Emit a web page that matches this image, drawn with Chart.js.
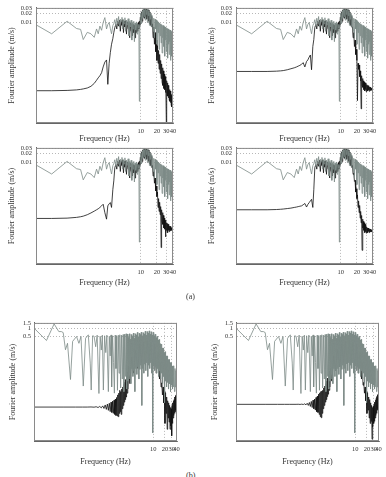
<!DOCTYPE html>
<html>
<head>
<meta charset="utf-8">
<script src="https://cdn.jsdelivr.net/npm/chart.js@4"></script>
<style>
  html, body { margin: 0; padding: 0; background: #fff; }
  body { width: 386px; height: 477px; position: relative; overflow: hidden; }
  canvas { position: absolute; }
  .tag { position: absolute; font-family: 'Liberation Serif', serif; font-size: 8px; line-height: 10px; color: #333; }
</style>
</head>
<body>
<canvas id="p1"></canvas>
<canvas id="p2"></canvas>
<canvas id="p3"></canvas>
<canvas id="p4"></canvas>
<canvas id="p5"></canvas>
<canvas id="p6"></canvas>
<div class="tag" style="left:186px;top:292px">(a)</div>
<div class="tag" style="left:186px;top:471px">(b)</div>
<script>
// ---- (a) panels: frequency grid split in three parts ----
const freqLowA = [0.113, 0.216, 0.42, 0.63, 0.75, 0.84, 1.0, 1.17, 1.35, 1.49, 1.6, 1.72, 1.85, 1.98, 2.13, 2.29, 2.42, 2.56, 2.7, 2.84, 3.0, 3.13];
const grayLowA = [0.0081, 0.0041, 0.011, 0.0062, 0.0058, 0.0026, 0.0046, 0.0041, 0.0031, 0.006, 0.0041, 0.0075, 0.0054, 0.01, 0.0147, 0.006, 0.0085, 0.01, 0.0062, 0.0041, 0.0078, 0.0092];
const blackLowA1 = [4.6e-5, 4.6e-5, 4.7e-5, 4.9e-5, 5.1e-5, 5.3e-5, 5.7e-5, 6.5e-5, 8.2e-5, 1.05e-4, 1.27e-4, 1.5e-4, 1.9e-4, 3.0e-4, 4.4e-4, 5.2e-4, 7.6e-5, 4.0e-4, 9.5e-4, 1.8e-3, 2.8e-3, 4.5e-3];
const blackLowA2 = [2.1e-4, 2.1e-4, 2.1e-4, 2.15e-4, 2.2e-4, 2.25e-4, 2.4e-4, 2.6e-4, 2.8e-4, 3.0e-4, 3.2e-4, 3.4e-4, 3.7e-4, 4.2e-4, 3.0e-4, 4.6e-4, 5.2e-4, 6.5e-4, 7.7e-4, 2.4e-4, 1.5e-3, 2.6e-3];
const blackLowA3 = [1.27e-4, 1.27e-4, 1.3e-4, 1.38e-4, 1.45e-4, 1.52e-4, 1.7e-4, 1.95e-4, 2.25e-4, 2.5e-4, 2.7e-4, 3.0e-4, 3.4e-4, 3.85e-4, 2.0e-4, 1.2e-4, 3.4e-4, 4.0e-4, 4.4e-4, 3.0e-4, 1.2e-3, 2.4e-3];
const blackLowA4 = [2.5e-4, 2.5e-4, 2.5e-4, 2.55e-4, 2.6e-4, 2.65e-4, 2.75e-4, 2.85e-4, 3.0e-4, 3.1e-4, 3.2e-4, 3.3e-4, 3.4e-4, 3.7e-4, 4.1e-4, 3.1e-4, 3.8e-4, 4.35e-4, 5.0e-4, 5.65e-4, 3.0e-4, 1.2e-3];

const freqMidA = [3.27, 3.42, 3.56, 3.7, 3.85, 4.0, 4.15, 4.3, 4.45, 4.6, 4.75, 4.9, 5.05, 5.2, 5.4, 5.6, 5.8, 6.0, 6.2, 6.4, 6.6, 6.8, 7.0, 7.2, 7.4, 7.6, 7.8, 8.0, 8.25, 8.5, 8.75, 9.0, 9.2, 9.4, 9.6, 9.8,
  10.0, 10.3, 10.6, 10.9, 11.2, 11.5, 11.8, 12.1, 12.4, 12.7, 13.0, 13.3, 13.6, 13.9, 14.2, 14.5, 14.8, 15.1, 15.4, 15.7, 16.0];
const grayMidA = [0.0125, 0.0075, 0.014, 0.009, 0.016, 0.007, 0.013, 0.0105, 0.015, 0.006, 0.0125, 0.009, 0.0145, 0.005, 0.012, 0.008, 0.0135, 0.0035, 0.011, 0.007, 0.012, 0.0025, 0.01, 0.006, 0.011, 0.0022, 0.0095, 0.0055, 0.0105, 0.004, 0.009, 0.0065, 0.0085, 0.00002, 0.007, 0.012,
  0.021, 0.009, 0.025, 0.014, 0.031, 0.016, 0.028, 0.012, 0.03, 0.019, 0.027, 0.01, 0.029, 0.017, 0.025, 0.008, 0.022, 0.013, 0.02, 0.007, 0.018];
const blackMidA = [0.0068, 0.0085, 0.006, 0.011, 0.0075, 0.012, 0.005, 0.0115, 0.008, 0.0125, 0.0045, 0.011, 0.007, 0.0115, 0.004, 0.0105, 0.006, 0.01, 0.003, 0.0095, 0.005, 0.009, 0.0035, 0.0085, 0.0045, 0.008, 0.003, 0.0085, 0.0045, 0.009, 0.005, 0.01, 0.006, 0.011, 0.008, 0.015,
  0.012, 0.023, 0.011, 0.027, 0.015, 0.03, 0.014, 0.028, 0.016, 0.029, 0.013, 0.026, 0.015, 0.027, 0.011, 0.023, 0.009, 0.019, 0.008, 0.016, 0.007];

const freqHighA = [16.5, 17, 17.5, 18, 18.5, 19, 19.5, 20,
  20.5, 21, 21.5, 22, 22.5, 23, 23.5, 24, 24.5, 25, 25.5, 26, 26.5, 27, 27.5, 28, 28.5, 29, 29.5, 30,
  30.5, 31, 31.5, 32, 32.5, 33, 33.5, 34, 34.5, 35, 35.5, 36, 36.5, 37, 37.5, 38, 38.5, 39, 39.5, 40];
const grayHighA = [0.016, 0.005, 0.014, 0.003, 0.013, 0.006, 0.012, 0.0018,
  0.011, 0.0045, 0.0105, 0.0012, 0.0095, 0.0035, 0.009, 0.002, 0.0085, 0.0009, 0.008, 0.003, 0.0078, 0.0015, 0.0072, 0.0007, 0.007, 0.0025, 0.0068, 0.001,
  0.0065, 0.002, 0.0062, 0.0006, 0.006, 0.0018, 0.0058, 0.0008, 0.0056, 0.0022, 0.0055, 0.0005, 0.0052, 0.0015, 0.005, 0.0007, 0.0048, 0.002, 0.0046, 0.0012];
const blackHighA1 = [0.009, 0.003, 0.007, 0.0018, 0.0045, 0.001, 0.0025, 0.0005,
  0.0016, 0.0004, 0.0011, 0.00025, 0.0008, 0.00018, 0.0005, 0.00012, 0.00038, 0.00009, 0.00028, 0.00007, 0.00022, 0.000055, 0.00017, 0.00005, 0.00014, 0.00004, 0.00011, 0.0000036,
  0.0001, 0.000035, 0.000085, 0.00003, 0.00007, 0.000026, 0.00006, 0.000022, 0.00005, 0.00002, 0.000045, 0.000018, 0.00004, 0.000015, 0.000034, 0.000013, 0.00003, 0.000011, 0.000025, 0.00001];
const blackHighA2 = [0.007, 0.003, 0.0045, 0.0015, 0.0025, 0.0008, 0.0012, 0.0005,
  0.000021, 0.0004, 0.00025, 0.00035, 0.00014, 0.00022, 0.0001, 0.000011, 0.00015, 0.00007, 0.00012, 0.00006, 0.0001, 0.00005, 0.00009, 0.000045, 0.000085, 0.00005, 0.00008, 0.000042,
  0.000075, 0.00005, 0.00007, 0.000045, 0.000068, 0.000048, 0.000065, 0.000044, 0.000062, 0.00005, 0.00006, 0.000046, 0.000058, 0.00005, 0.000056, 0.000048, 0.000056, 0.00005, 0.000055, 0.000052];
const blackHighA3 = [0.008, 0.0035, 0.005, 0.002, 0.003, 0.0011, 0.0016, 0.0007,
  0.001, 0.0003, 0.0006, 0.00022, 0.00045, 0.00017, 0.00032, 0.000013, 0.00025, 0.0001, 0.0002, 0.00008, 0.00016, 0.00006, 0.00013, 0.000055, 0.00011, 0.00003, 0.0001, 0.00005,
  0.00009, 0.000045, 0.000085, 0.000042, 0.00008, 0.00005, 0.000075, 0.000045, 0.00007, 0.00005, 0.000068, 0.000048, 0.000065, 0.00005, 0.000062, 0.000052, 0.00006, 0.000054, 0.00006, 0.000056];
const blackHighA4 = [0.008, 0.004, 0.0045, 0.0023, 0.0025, 0.001, 0.0013, 0.0006,
  0.0008, 0.0003, 0.0005, 0.0002, 0.00035, 0.00013, 0.00022, 0.00009, 0.00016, 0.0000105, 0.00012, 0.00006, 0.0001, 0.00005, 0.00009, 0.000042, 0.00008, 0.000045, 0.00007, 0.00004,
  0.000065, 0.000045, 0.00006, 0.000042, 0.00006, 0.000046, 0.000058, 0.000042, 0.000056, 0.000045, 0.000055, 0.000044, 0.000054, 0.000046, 0.000052, 0.000045, 0.000052, 0.000047, 0.00005, 0.000049];

// ---- (b) panels ----
const freqB = [0.0086, 0.0178, 0.028, 0.037, 0.043, 0.048, 0.055, 0.062, 0.074, 0.084, 0.106, 0.122, 0.138, 0.158, 0.181, 0.213, 0.239, 0.253, 0.275,
  0.30, 0.33, 0.36, 0.40, 0.43, 0.46, 0.49, 0.52, 0.56, 0.60, 0.64, 0.70, 0.74, 0.78, 0.82, 0.85, 0.90, 0.95, 1.00, 1.05, 1.10, 1.15, 1.20, 1.26, 1.32, 1.38, 1.45, 1.52, 1.60, 1.68, 1.76, 1.84, 1.92, 2.00, 2.08, 2.16, 2.23,
  2.30, 2.37, 2.44, 2.51, 2.59, 2.66, 2.74, 2.83, 2.91, 3.00, 3.09, 3.18, 3.27, 3.37, 3.47, 3.58, 3.68, 3.79, 3.91, 4.02,
  4.14, 4.27, 4.39, 4.53, 4.66, 4.80, 4.94, 5.09, 5.24, 5.40, 5.56, 5.73, 5.90, 6.07, 6.25, 6.44, 6.63, 6.83, 7.03, 7.24,
  7.46, 7.68, 7.91, 8.14, 8.39, 8.64, 8.89, 9.16, 9.43, 9.71, 10.0, 10.3, 10.6, 10.9, 11.2, 11.6, 11.9, 12.3, 12.6, 13.0,
  13.4, 13.8, 14.2, 14.6, 15.1, 15.5, 16.0, 16.5, 16.9, 17.4, 18.0, 18.5, 19.0, 19.6, 20.2, 20.8, 21.4, 22.1, 22.7, 23.4,
  24.1, 24.8, 25.6, 26.3, 27.1, 27.9, 28.8, 29.6, 30.5, 31.4, 32.4, 33.3, 34.3, 35.4, 36.4, 37.5, 38.6, 39.8, 41.0];
const grayB = [1.0, 0.345, 1.46, 0.75, 0.75, 0.69, 0.154, 0.27, 0.0115, 0.32, 0.49, 0.27, 0.49, 0.0065, 0.42, 0.565, 0.048, 0.0046, 0.52,
  0.5, 0.2, 0.55, 0.0034, 0.5, 0.15, 0.55, 0.0046, 0.52, 0.12, 0.55, 0.004, 0.5, 0.09, 0.56, 0.006, 0.52, 0.05, 0.0035, 0.55, 0.03, 0.5, 0.0045, 0.55, 0.02, 0.57, 0.0055, 0.55, 0.012, 0.58, 0.004, 0.6, 0.015, 0.62, 0.005, 0.6, 0.01,
  0.45, 0.012, 0.62, 0.02, 0.38, 0.008, 0.58, 0.03, 0.5, 0.015, 0.66, 0.025, 0.42, 0.004, 0.62, 0.03, 0.55, 0.018, 0.7, 0.035,
  0.48, 0.012, 0.65, 0.028, 0.58, 0.04, 0.72, 0.0012, 0.52, 0.03, 0.68, 0.02, 0.6, 0.045, 0.78, 0.025, 0.55, 0.05, 0.75, 0.015,
  0.66, 0.04, 0.8, 0.03, 0.6, 0.05, 0.74, 0.02, 0.56, 0.00011, 0.7, 0.04, 0.52, 0.025, 0.6, 0.035, 0.44, 0.02, 0.5, 0.03,
  0.36, 0.015, 0.38, 0.025, 0.26, 0.012, 0.25, 0.02, 0.18, 0.008, 0.18, 0.015, 0.12, 0.0015, 0.13, 0.01, 0.09, 0.006, 0.09, 0.009,
  0.065, 0.005, 0.066, 0.008, 0.05, 0.004, 0.05, 0.007, 0.037, 0.005, 0.038, 0.006, 0.03, 0.004, 0.03, 0.006, 0.025, 0.0045, 0.024];

const freqBlackB = [0.0086, 0.05, 0.1, 0.15, 0.2, 0.25, 0.3, 0.34, 0.38, 0.42, 0.46, 0.5, 0.54, 0.58, 0.62, 0.66, 0.70,
  0.74, 0.78, 0.82, 0.86, 0.90, 0.94, 0.98, 1.02, 1.06, 1.10, 1.14, 1.18, 1.22, 1.26, 1.30, 1.34, 1.38, 1.42, 1.46, 1.50,
  1.55, 1.60, 1.65, 1.70, 1.75, 1.80, 1.85, 1.90, 1.95, 2.00, 2.06, 2.12, 2.18, 2.24, 2.30,
  2.5, 2.8, 3.1, 3.5, 4.0, 4.5, 5.0, 5.6, 6.3, 7.0, 7.8, 8.7, 9.7, 10.8, 12.0, 13.3,
  14.5, 15.2, 15.9, 16.6, 17.3, 18.0, 18.7, 19.4, 20.1, 20.8, 21.5, 22.2, 22.9, 23.6, 24.3, 25.0, 25.7, 26.4, 27.1, 27.8,
  28.5, 29.2, 29.9, 30.6, 31.3, 32.0, 32.7, 33.4, 34.1, 34.8, 35.5, 36.2, 36.9, 37.6, 38.3, 39.0, 39.7, 40.4, 41.0];
const blackB1 = [1.04e-3, 1.04e-3, 1.04e-3, 1.04e-3, 1.04e-3, 1.05e-3, 1.03e-3, 1.07e-3, 1.0e-3, 1.1e-3, 0.97e-3, 1.15e-3, 0.92e-3, 1.25e-3, 0.85e-3, 1.35e-3, 0.78e-3,
  1.45e-3, 0.7e-3, 1.6e-3, 0.65e-3, 1.75e-3, 0.6e-3, 1.9e-3, 0.55e-3, 2.1e-3, 0.5e-3, 2.4e-3, 0.48e-3, 3.0e-3, 0.45e-3, 3.5e-3, 0.6e-3, 4.5e-3, 0.7e-3, 4.0e-3, 0.55e-3,
  5.0e-3, 0.9e-3, 6.0e-3, 1.2e-3, 7.5e-3, 1.6e-3, 9.0e-3, 2.0e-3, 0.0115, 2.5e-3, 0.016, 3.5e-3, 0.022, 5.0e-3, 0.036,
  0.008, 0.08, 0.02, 0.15, 0.03, 0.25, 0.05, 0.3, 0.04, 0.35, 0.05, 0.3, 0.03, 0.25, 0.02, 0.12,
  0.012, 0.05, 0.006, 0.0086, 0.003, 0.006, 0.0015, 0.004, 0.00025, 0.0036, 0.0006, 0.0025, 0.00015, 0.0018, 0.0004, 0.0015, 0.00028, 0.0012, 0.00015, 0.001,
  0.0002, 0.0009, 0.000085, 0.0012, 0.00025, 0.0015, 0.0004, 0.0018, 0.0005, 0.002, 0.0006, 0.0025, 0.0007, 0.0028, 0.0008, 0.003, 0.0009, 0.003, 0.0012];
const blackB2 = [1.32e-3, 1.32e-3, 1.32e-3, 1.32e-3, 1.32e-3, 1.32e-3, 1.32e-3, 1.33e-3, 1.31e-3, 1.34e-3, 1.3e-3, 1.38e-3, 1.26e-3, 1.45e-3, 1.2e-3, 1.55e-3, 1.1e-3,
  1.7e-3, 1.0e-3, 1.9e-3, 0.9e-3, 2.1e-3, 0.8e-3, 2.4e-3, 0.7e-3, 2.7e-3, 0.65e-3, 3.2e-3, 0.55e-3, 3.6e-3, 0.45e-3, 4.0e-3, 0.41e-3, 4.2e-3, 0.6e-3, 4.5e-3, 0.9e-3,
  5.5e-3, 1.2e-3, 6.5e-3, 1.6e-3, 8.0e-3, 2.0e-3, 0.01, 2.6e-3, 0.013, 3.2e-3, 0.018, 4.5e-3, 0.024, 6.0e-3, 0.03,
  0.01, 0.09, 0.025, 0.16, 0.035, 0.26, 0.05, 0.32, 0.045, 0.36, 0.05, 0.3, 0.03, 0.25, 0.02, 0.12,
  0.012, 0.05, 0.007, 0.009, 0.0035, 0.006, 0.0018, 0.004, 0.0006, 0.0036, 0.0008, 0.0025, 0.0004, 0.002, 0.00025, 0.0015, 0.0003, 0.0012, 0.000063, 0.001,
  0.00018, 0.0011, 0.00025, 0.0013, 0.0003, 0.0016, 0.0004, 0.0019, 0.0005, 0.0022, 0.0006, 0.0026, 0.0008, 0.003, 0.0009, 0.0032, 0.0011, 0.0035, 0.0015];

// ticks
const xTickLabels = [10, 20, 30, 40];
const yTicksA = [0.01, 0.02, 0.03];
const yTicksB = [0.5, 1, 1.5];

const FONT = "'Liberation Serif', 'Times New Roman', serif";
const GRAY = '#7c8a87';
const BLACK = '#111';

function pts(fs, vs) {
  return fs.map((f, i) => ({x: f, y: vs[i]}));
}

const freqA = freqLowA.concat(freqMidA, freqHighA);
const grayA = pts(freqA, grayLowA.concat(grayMidA, grayHighA));
function blackA(low, high) {
  return pts(freqA, low.concat(blackMidA, high));
}

// box round the plot area
const frame = {
  id: 'frame',
  afterDatasetsDraw(c) {
    const a = c.chartArea, ctx = c.ctx;
    ctx.save();
    ctx.strokeStyle = '#8a8a8a';
    ctx.lineWidth = 1;
    ctx.strokeRect(a.left + 0.5, a.top + 0.5, a.right - a.left - 1, a.bottom - a.top - 1);
    ctx.restore();
  }
};

function panel(id, geo, xRange, yRange, yTicks, gray, black) {
  const yw = 36, xh = 26;
  const L = geo.x0 - yw;
  const T = Math.max(0, geo.y0 - 6);
  const W = geo.x1 + 8 - L;
  const H = geo.y1 + xh - T;
  const cv = document.getElementById(id);
  cv.width = W; cv.height = H;
  cv.style.left = L + 'px'; cv.style.top = T + 'px';
  cv.style.width = W + 'px'; cv.style.height = H + 'px';

  const tickFont = {family: FONT, size: 6.5};
  new Chart(cv, {
    type: 'line',
    data: {
      datasets: [
        {data: gray, borderColor: GRAY, borderWidth: 0.8, pointRadius: 0, tension: 0, fill: false},
        {data: black, borderColor: BLACK, borderWidth: 0.8, pointRadius: 0, tension: 0, fill: false}
      ]
    },
    options: {
      responsive: false,
      animation: false,
      events: [],
      layout: {padding: {left: 0, top: geo.y0 - T, right: 8, bottom: 0}},
      plugins: {legend: {display: false}, tooltip: {enabled: false}},
      scales: {
        x: {
          type: 'logarithmic', min: xRange[0], max: xRange[1], bounds: 'data',
          afterBuildTicks: s => { s.ticks = xTickLabels.map(v => ({value: v})); },
          afterFit: s => { s.height = xh; },
          ticks: {autoSkip: false, maxRotation: 0, minRotation: 0, padding: 4, font: tickFont, color: '#333', callback: v => String(v)},
          grid: {color: '#9a9a9a', lineWidth: 0.7, drawTicks: false},
          border: {display: true, color: '#666', width: 1, dash: [1, 2]},
          title: {display: true, text: 'Frequency (Hz)', color: '#333', font: {family: FONT, size: 8},
                  padding: {top: 0, bottom: (T + H) - geo.xt - 4.8}}
        },
        y: {
          type: 'logarithmic', min: yRange[0], max: yRange[1], bounds: 'data',
          afterBuildTicks: s => { s.ticks = yTicks.map(v => ({value: v})); },
          afterFit: s => { s.width = yw; },
          ticks: {autoSkip: false, padding: geo.yp, font: tickFont, color: '#333', callback: v => String(v)},
          grid: {color: '#9a9a9a', lineWidth: 0.7, drawTicks: false},
          border: {display: true, color: '#666', width: 1, dash: [1, 2]},
          title: {display: true, text: 'Fourier amplitude (m/s)', color: '#333', font: {family: FONT, size: 8},
                  padding: {top: geo.yt - L - 4.8, bottom: 0}}
        }
      }
    },
    plugins: [frame]
  });
}

const xRangeA = [0.11, 40], yRangeA = [3.6e-6, 0.0316];
const xRangeB = [0.0085, 41], yRangeB = [5.4e-5, 1.6];

panel('p1', {x0: 36, x1: 173, y0: 5, y1: 123, yt: 12, xt: 139.3, yp: 4}, xRangeA, yRangeA, yTicksA, grayA, blackA(blackLowA1, blackHighA1));
panel('p2', {x0: 236, x1: 373, y0: 5, y1: 123, yt: 212, xt: 139.3, yp: 4}, xRangeA, yRangeA, yTicksA, grayA, blackA(blackLowA2, blackHighA2));
panel('p3', {x0: 36, x1: 173, y0: 146, y1: 264, yt: 12, xt: 283, yp: 4}, xRangeA, yRangeA, yTicksA, grayA, blackA(blackLowA3, blackHighA3));
panel('p4', {x0: 236, x1: 373, y0: 146, y1: 264, yt: 212, xt: 283, yp: 4}, xRangeA, yRangeA, yTicksA, grayA, blackA(blackLowA4, blackHighA4));
panel('p5', {x0: 34, x1: 177, y0: 322, y1: 441, yt: 13, xt: 461.7, yp: 3}, xRangeB, yRangeB, yTicksB, pts(freqB, grayB), pts(freqBlackB, blackB1));
panel('p6', {x0: 236, x1: 379, y0: 322, y1: 441, yt: 215, xt: 461.7, yp: 3}, xRangeB, yRangeB, yTicksB, pts(freqB, grayB), pts(freqBlackB, blackB2));
</script>
</body>
</html>
